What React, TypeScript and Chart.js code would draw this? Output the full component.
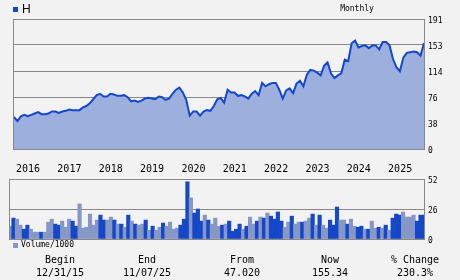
import React, { useEffect, useRef } from "react";
import { Chart, registerables } from "chart.js";
Chart.register(...registerables);

// ---- data ----
const firstMonth = { year: 2015, month: 12 }; // 12/31/15
const months: string[] = [];
for (let i = 0; i < 120; i++) {
  const t = firstMonth.year * 12 + (firstMonth.month - 1) + i;
  months.push(`${Math.floor(t / 12)}-${String((t % 12) + 1).padStart(2, "0")}`);
}
const yearLabels = ["2016", "2017", "2018", "2019", "2020", "2021", "2022", "2023", "2024", "2025"];

const price = [
  47.02, 41, 48, 50, 48, 50, 52, 54, 51, 51,
  52, 55, 55, 53, 55, 56, 58, 57, 57, 57,
  61, 63, 67, 73, 79, 81, 77, 77, 81, 80,
  78, 78, 79, 76, 70, 71, 69, 71, 74, 75,
  74, 73, 77, 76, 72, 74, 81, 87, 90, 83,
  72, 49, 55, 55, 49, 55, 57, 56, 63, 73,
  75, 68, 87, 83, 83, 78, 79, 77, 74, 81,
  85, 79, 97, 92, 95, 97, 97, 87, 74, 86,
  89, 82, 96, 100, 92, 109, 116, 115, 112, 108,
  122, 127, 111, 104, 108, 111, 131, 129, 155, 159,
  149, 151, 152, 148, 152, 152, 146, 157, 157, 152,
  132, 120, 114, 134, 141, 142, 143, 142, 137, 155.34,
];

const volume = [
  11.1, 18.1, 17.2, 12, 8.5, 12, 8.5, 5.9, 5.9, 5.9,
  5.9, 14.6, 17.2, 12.9, 12, 15.5, 10.2, 17.2, 15.5, 11.1,
  30.4, 9.4, 10.2, 21.6, 12, 16.4, 20.7, 16.4, 16.4, 19,
  16.4, 12.9, 12.9, 10.2, 20.7, 15.5, 12.9, 12, 12.9, 16.4,
  7.6, 11.1, 7.6, 10.2, 13.8, 11.1, 14.6, 8.5, 9.4, 12,
  17.2, 49.6, 35.6, 22.5, 26, 15.5, 20.7, 16.4, 12.9, 18.1,
  11.1, 12, 12.9, 15.5, 6.7, 8.5, 12.9, 8.5, 11.1, 19,
  12.9, 15.5, 19, 18.1, 22.5, 19.8, 17.2, 23.4, 15.5, 10.2,
  14.6, 19.8, 12.9, 14.6, 14.6, 15.5, 18.1, 21.6, 12, 20.7,
  12, 9.4, 16.4, 12, 27.7, 16.4, 16.4, 12.9, 17.2, 11.1,
  10.2, 11.1, 8.5, 8.5, 15.5, 9.4, 10.2, 9.4, 12, 7.6,
  18.1, 21.6, 20.7, 23.4, 19, 19, 20.7, 15.5, 20.7, 20.7,
];
// 1 = dark bar, 0 = light bar
const volumeKind = [
  0, 1, 0, 0, 1, 1, 0, 0, 0, 1,
  0, 0, 0, 1, 1, 0, 0, 0, 1, 1,
  0, 0, 0, 0, 0, 0, 1, 1, 0, 0,
  1, 0, 1, 0, 1, 0, 1, 0, 0, 1,
  0, 1, 0, 0, 1, 0, 0, 0, 0, 1,
  1, 1, 0, 1, 1, 1, 0, 1, 0, 0,
  0, 1, 0, 1, 1, 1, 1, 0, 1, 0,
  0, 1, 0, 1, 0, 1, 1, 1, 1, 0,
  0, 1, 0, 0, 1, 0, 0, 1, 0, 1,
  0, 0, 1, 1, 1, 0, 0, 1, 0, 0,
  1, 1, 0, 1, 0, 0, 1, 0, 1, 0,
  1, 1, 1, 0, 0, 0, 0, 1, 1, 1,
];

const priceMax = 190.7;
const priceTickLabels = ["0", "38", "76", "114", "153", "191"];
const volumeMax = 52;
const volumeTickLabels = ["0", "26", "52"];

const summaryHeads = ["Begin", "End", "From", "Now", "% Change"];
const summaryValues = ["12/31/15", "11/07/25", "47.020", "155.34", "230.3%"];

// ---- styles ----
const BG = "#f2f2f2";
const GRID = "#888888";
const LINE = "#1448cc";
const FILL = "#9db0dd";
const VOL_DARK = "#1448c8";
const VOL_LIGHT = "#8797c5";
const MONO = '"DejaVu Sans Mono", monospace';

const framePlugin = {
  id: "frame",
  afterDatasetsDraw(chart: any) {
    const { ctx, chartArea } = chart;
    const { left, right, top, bottom } = chartArea;
    ctx.save();
    ctx.strokeStyle = GRID;
    ctx.lineWidth = 1;
    ctx.beginPath();
    ctx.moveTo(left - 0.5, top);
    ctx.lineTo(left - 0.5, bottom + 1);
    ctx.moveTo(right + 0.5, top);
    ctx.lineTo(right + 0.5, bottom + 1);
    ctx.stroke();
    ctx.restore();
  },
};

export default function App() {
  const priceRef = useRef<HTMLCanvasElement>(null);
  const volRef = useRef<HTMLCanvasElement>(null);

  useEffect(() => {
    const c1 = new Chart(priceRef.current!, {
      type: "line",
      data: {
        labels: months,
        datasets: [
          {
            data: price,
            borderColor: LINE,
            backgroundColor: FILL,
            fill: "origin",
            borderWidth: 2,
            pointRadius: 0,
            tension: 0,
          },
        ],
      },
      options: {
        animation: false,
        responsive: false,
        layout: { padding: { left: 10, top: 19, right: 0, bottom: 0 } },
        plugins: { legend: { display: false }, tooltip: { enabled: false } },
        scales: {
          x: {
            type: "category",
            offset: false,
            grid: { display: false, drawTicks: false },
            border: { display: false },
            ticks: {
              autoSkip: false,
              maxRotation: 0,
              minRotation: 0,
              align: "start",
              labelOffset: 2,
              padding: 14,
              color: "#000",
              font: { family: MONO, size: 10 },
              callback: (_v: any, i: number) => (i % 12 === 0 ? yearLabels[i / 12] ?? "" : ""),
            },
            afterFit: (s: any) => {
              s.height = 29;
            },
          },
          y: {
            position: "right",
            min: 0,
            max: priceMax,
            grid: { color: GRID, lineWidth: 1, drawTicks: false },
            border: { display: false },
            afterBuildTicks: (s: any) => {
              s.ticks = priceTickLabels.map((_, i) => ({ value: (priceMax * i) / (priceTickLabels.length - 1) }));
            },
            ticks: {
              padding: 4,
              labelOffset: 1.5,
              color: "#000",
              font: { family: MONO, size: 8 },
              callback: (_v: any, i: number) => priceTickLabels[i],
            },
            afterFit: (s: any) => {
              s.width = 36;
            },
          },
        },
      } as any,
      plugins: [framePlugin],
    });

    const c2 = new Chart(volRef.current!, {
      type: "bar",
      data: {
        labels: months,
        datasets: [
          {
            data: volume,
            backgroundColor: volumeKind.map((k) => (k ? VOL_DARK : VOL_LIGHT)),
            barPercentage: 1,
            categoryPercentage: 1,
            borderWidth: 0,
            clip: 0,
          } as any,
        ],
      },
      options: {
        animation: false,
        responsive: false,
        layout: { padding: { left: 10, top: 10, right: 0, bottom: 10 } },
        plugins: { legend: { display: false }, tooltip: { enabled: false } },
        scales: {
          x: { type: "category", offset: false, display: false },
          y: {
            position: "right",
            min: 0,
            max: volumeMax,
            grid: { color: GRID, lineWidth: 1, drawTicks: false },
            border: { display: false },
            afterBuildTicks: (s: any) => {
              s.ticks = volumeTickLabels.map((_, i) => ({ value: (volumeMax * i) / (volumeTickLabels.length - 1) }));
            },
            ticks: {
              padding: 4,
              labelOffset: 1.5,
              color: "#000",
              font: { family: MONO, size: 8 },
              callback: (_v: any, i: number) => volumeTickLabels[i],
            },
            afterFit: (s: any) => {
              s.width = 36;
            },
          },
        },
      } as any,
      plugins: [framePlugin],
    });

    return () => {
      c1.destroy();
      c2.destroy();
    };
  }, []);

  const centers = [60, 147, 242, 330, 415];

  return (
    <div
      style={{
        position: "fixed",
        left: 0,
        top: 0,
        width: 460,
        height: 280,
        background: BG,
        overflow: "hidden",
        fontFamily: MONO,
        color: "#000",
      }}
    >
      <canvas ref={priceRef} width={460} height={178} style={{ position: "absolute", left: 0, top: 0 }} />
      <canvas ref={volRef} width={460} height={80} style={{ position: "absolute", left: 0, top: 169 }} />

      <div style={{ position: "absolute", left: 13, top: 7, width: 5, height: 5, background: LINE }} />
      <div
        style={{
          position: "absolute",
          left: 22,
          top: 3,
          fontFamily: '"Liberation Sans", Arial, sans-serif',
          fontSize: 12,
          lineHeight: "12px",
        }}
      >
        H
      </div>
      <div style={{ position: "absolute", left: 307, width: 100, top: 5, textAlign: "center", fontSize: 8, lineHeight: "8px" }}>
        Monthly
      </div>

      <div style={{ position: "absolute", left: 13, top: 243, width: 5, height: 5, background: VOL_LIGHT }} />
      <div style={{ position: "absolute", left: 21, top: 241, fontSize: 8, lineHeight: "8px" }}>Volume/1000</div>

      {summaryHeads.map((h, i) => (
        <div
          key={h}
          style={{
            position: "absolute",
            left: centers[i] - 45,
            width: 90,
            top: 255,
            textAlign: "center",
            fontSize: 10,
            lineHeight: "10px",
            whiteSpace: "pre",
          }}
        >
          {h}
        </div>
      ))}
      {summaryValues.map((v, i) => (
        <div
          key={v}
          style={{
            position: "absolute",
            left: centers[i] - 45,
            width: 90,
            top: 268,
            textAlign: "center",
            fontSize: 10,
            lineHeight: "10px",
            whiteSpace: "pre",
          }}
        >
          {v}
        </div>
      ))}
    </div>
  );
}
